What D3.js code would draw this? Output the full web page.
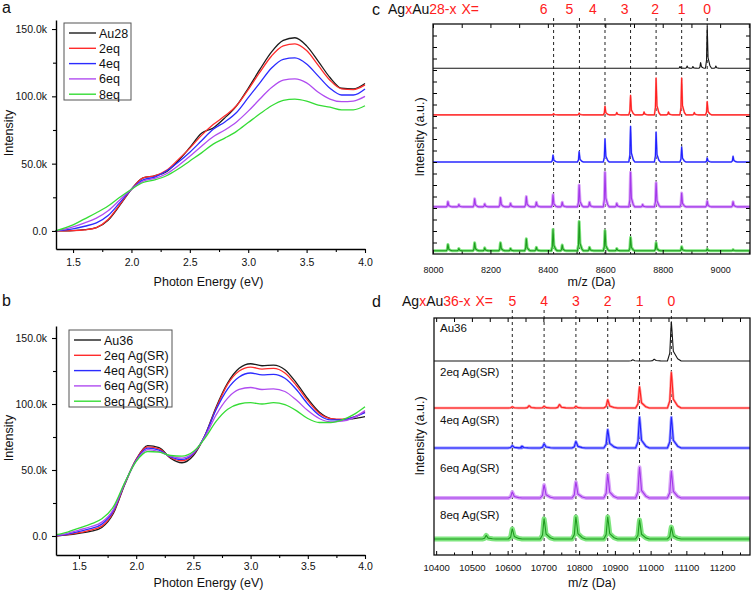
<!DOCTYPE html>
<html>
<head>
<meta charset="utf-8">
<script src="https://cdn.jsdelivr.net/npm/d3@7"></script>
<style>
body { margin: 0; background: #fff; }
text { font-family: "Liberation Sans", Arial, sans-serif; }
</style>
</head>
<body>
<svg id="fig" width="754" height="591"></svg>
<script>
// ---- panel a : UV-vis of Au28 with Ag doping (values in k) ----
const energyA = [1.35,1.5,1.6,1.7,1.8,1.9,2.0,2.1,2.2,2.3,2.4,2.5,2.6,2.7,2.8,2.9,3.0,3.1,3.2,3.3,3.4,3.5,3.6,3.7,3.8,3.9,4.0];
const au28  = [0,0.3,1,2.5,8,19,31,39.5,41,44,52,62,72.5,76.5,84,93,106,120,133,141.5,143.5,137.5,126,114,106,105.5,109.5];
const au28_2eq = [0,0.2,0.8,2.5,8.5,19.5,31,39.5,41,45,53,61.5,71,79,85.5,93,105,118,130,137.5,139,134,123,112,105.5,105,108.5];
const au28_4eq = [0,1.5,3.5,6,11.5,21,31,38,40,44.5,51,58.5,67,75.5,81,88,99,110,121,127.5,128.5,124,115,106,101,101,105.5];
const au28_6eq = [0,3,6,9.5,15,23,31,37,39,42.5,48.5,55.5,63,70,75,81,89,98,106.5,112,113,110,103,98,96,96.5,100];
const au28_8eq = [0,4.5,9,13.5,18.5,25,31,36,38,41,46,52,58,64.5,69,74,80.5,87,93,97,98,96.5,93.5,92,90,90,93];
const legendA = ["Au28", "2eq", "4eq", "6eq", "8eq"];

// ---- panel b : UV-vis of Au36 ----
const energyB = [1.3,1.4,1.5,1.6,1.7,1.8,1.9,2.0,2.1,2.2,2.3,2.4,2.5,2.6,2.7,2.8,2.9,3.0,3.1,3.2,3.3,3.4,3.5,3.6,3.7,3.8,3.9,4.0];
const au36  = [0,0.8,2,3.5,6.5,17,39,58,68.5,67,59,55.5,61,76,98,116,127,130.5,129,129.5,126,116,104,94,89,88,89,90.5];
const au36_2eq = [0,1,2.5,4.5,7.5,18,39.5,58,67.5,66,59.5,57,62,76,97,115,125,128,126.5,127,123.5,114,102.5,93,89,88.5,90,94];
const au36_4eq = [0.2,1.5,3.5,5.5,9,19,40,57.5,66.5,65,60,58,62.5,76,96,111.5,120.5,123.5,122,122.5,119.5,111,100,91.5,88,88,90,93.5];
const au36_6eq = [0.5,2,4.5,7,10.5,20,40,57,65.5,64,60.5,59,63,75,92,104.5,111,112.5,111,111.5,109.5,103,95,89,86.5,87,89.5,95];
const au36_8eq = [1,3,6,9,13,22,40.5,56.5,64,63.5,61,60.5,64,74,87,96,100,101,100,101,99.5,95,89,86,86,88,92,98];
const legendB = ["Au36", "2eq Ag(SR)", "4eq Ag(SR)", "6eq Ag(SR)", "8eq Ag(SR)"];

const uvTicksY = [0, 50, 100, 150];
const uvMinorY = [25, 75, 125];
const uvTicksX = [1.5, 2.0, 2.5, 3.0, 3.5, 4.0];
const uvMinorX = [1.75, 2.25, 2.75, 3.25, 3.75];

// ---- panel c : MALDI of AgxAu28-x, peaks [m/z, height above baseline] ----
const xLabelsC = ["6", "5", "4", "3", "2", "1", "0"];
const markC = [8420, 8510, 8599, 8688, 8777, 8866, 8955];
const baseC = [16.15, 12.1, 8.0, 4.1, 0.28];
const peaksC_au28 = [[8860,0.15],[8885,0.2],[8905,0.15],[8932,0.5],[8955,3.6],[8985,0.2]];
const peaksC_2eq = [[8420,0.1],[8509,0.15],[8599,0.75],[8640,0.2],[8688,1.7],[8735,0.25],[8777,3.2],[8820,0.25],[8866,3.2],[8910,0.2],[8955,1.15]];
const peaksC_4eq = [[8418,0.6],[8509,0.9],[8599,2.0],[8688,3.1],[8777,2.6],[8866,1.3],[8955,0.35],[9045,0.5]];
const peaksC_6eq = [[8052,0.45],[8090,0.2],[8145,0.7],[8180,0.25],[8235,0.8],[8270,0.3],[8325,0.9],[8360,0.4],[8418,1.05],[8450,0.4],[8509,1.9],[8545,0.4],[8599,3.0],[8640,0.3],[8688,3.0],[8730,0.2],[8777,2.1],[8866,1.2],[8955,0.5],[9045,0.45]];
const peaksC_8eq = [[8052,0.55],[8090,0.2],[8145,0.7],[8180,0.25],[8235,0.7],[8270,0.2],[8325,1.05],[8360,0.3],[8418,1.85],[8450,0.5],[8509,2.55],[8545,0.3],[8599,1.75],[8640,0.2],[8688,1.15],[8777,0.7],[8866,0.35],[8955,0.15],[9045,0.1]];

// ---- panel d : MALDI of AgxAu36-x ----
const xLabelsD = ["5", "4", "3", "2", "1", "0"];
const markD = [10613, 10702, 10791, 10880, 10969, 11058];
const baseD = [16.37, 12.4, 9.03, 4.81, 1.35];
const namesD = ["Au36", "2eq Ag(SR)", "4eq Ag(SR)", "6eq Ag(SR)", "8eq Ag(SR)"];
const peaksD_au36 = [[10950,0.1],[11010,0.15],[11058,3.3]];
const peaksD_2eq = [[10613,0.1],[10660,0.2],[10702,0.15],[10745,0.3],[10791,0.15],[10880,0.7],[10969,1.8],[11058,3.0]];
const peaksD_4eq = [[10613,0.2],[10640,0.15],[10702,0.35],[10791,0.55],[10880,1.55],[10969,2.6],[11058,2.6]];
const peaksD_6eq = [[10613,0.5],[10702,1.1],[10791,1.35],[10880,2.0],[10969,2.6],[11058,2.25]];
const peaksD_8eq = [[10540,0.3],[10613,0.85],[10702,1.7],[10791,1.85],[10880,1.85],[10969,1.6],[11058,1.0]];

const uvColors = ["#1c1c1c", "#ff2b2b", "#2b2bff", "#b04cf0", "#35dc35"];
const msColors = ["#151515", "#ff2020", "#2020ff", "#a337ea", "#1f9a1f"];
const msHalo = ["#151515", "#ff9a9a", "#9a9aff", "#d9a4f8", "#7ee57e"];

const svg = d3.select("#fig");

function uvPanel(o) {
    const g = svg.append("g");
    const x = d3.scaleLinear().domain(o.xd).range([o.left, o.right]);
    const y = d3.scaleLinear().domain(o.yd).range([o.bottom, o.top]);

    const line = d3.line().x(d => x(d[0])).y(d => y(d[1])).curve(d3.curveMonotoneX);
    o.series.forEach((s, i) => {
        g.append("path")
            .attr("d", line(o.energy.map((e, k) => [e, s[k]])))
            .attr("fill", "none")
            .attr("stroke", uvColors[i])
            .attr("stroke-width", 1.3);
    });

    g.append("g").attr("transform", `translate(0,${o.bottom})`)
        .call(d3.axisBottom(x).tickValues(uvTicksX).tickFormat(d3.format(".1f"))
            .tickSizeInner(4).tickSizeOuter(0).tickPadding(o.padX));
    g.append("g").attr("transform", `translate(0,${o.bottom})`)
        .call(d3.axisBottom(x).tickValues(uvMinorX).tickFormat("").tickSizeInner(3).tickSizeOuter(0))
        .select(".domain").remove();
    g.append("g").attr("transform", `translate(${o.left},0)`)
        .call(d3.axisLeft(y).tickValues(uvTicksY).tickFormat(d => d === 0 ? "0.0" : d.toFixed(1) + "k")
            .tickSizeInner(4).tickSizeOuter(0).tickPadding(5));
    g.append("g").attr("transform", `translate(${o.left},0)`)
        .call(d3.axisLeft(y).tickValues(uvMinorY).tickFormat("").tickSizeInner(3).tickSizeOuter(0))
        .select(".domain").remove();
    g.selectAll(".domain").attr("stroke-width", 1.4);
    g.selectAll(".tick line").attr("stroke-width", 1.1);
    g.selectAll(".tick text").attr("font-size", 10.5).attr("font-family", "Liberation Sans, Arial").attr("fill", "#111");

    // legend
    const lg = g.append("g");
    lg.append("rect").attr("x", o.lx).attr("y", o.ly).attr("width", o.lw).attr("height", 77)
        .attr("fill", "#fff").attr("stroke", "#555").attr("stroke-width", 1);
    o.names.forEach((n, i) => {
        const cy = o.ly + 10 + i * 15.3;
        lg.append("line").attr("x1", o.lx + 5).attr("x2", o.lx + 32).attr("y1", cy).attr("y2", cy)
            .attr("stroke", uvColors[i]).attr("stroke-width", 1.4);
        lg.append("text").attr("x", o.lx + 35).attr("y", cy + 4.5).attr("font-size", 12.5).attr("fill", "#111").text(n);
    });

    g.append("text").attr("x", (o.left + o.right) / 2 - 2).attr("y", o.xTitleY).attr("text-anchor", "middle")
        .attr("font-size", 12.5).attr("fill", "#111").text("Photon Energy (eV)");
    g.append("text").attr("transform", `translate(13,${o.yTitleY}) rotate(-90)`).attr("text-anchor", "middle")
        .attr("font-size", 12.5).attr("fill", "#111").text("Intensity");
    g.append("text").attr("x", 2).attr("y", o.letterY).attr("font-size", 16).attr("fill", "#111").text(o.letter);
}

uvPanel({
    xd: [1.354, 4.0], yd: [-13.4, 156.7], left: 56, right: 365, top: 20, bottom: 249,
    energy: energyA, series: [au28, au28_2eq, au28_4eq, au28_6eq, au28_8eq], names: legendA,
    lx: 64, ly: 23, lw: 67, padX: 6, xTitleY: 286, yTitleY: 133, letter: "a", letterY: 13
});
uvPanel({
    xd: [1.299, 4.0], yd: [-14.4, 159.1], left: 56, right: 365, top: 326, bottom: 555,
    energy: energyB, series: [au36, au36_2eq, au36_4eq, au36_6eq, au36_8eq], names: legendB,
    lx: 69, ly: 330, lw: 103, padX: 4, xTitleY: 587, yTitleY: 438, letter: "b", letterY: 306
});

// spike shape for a mass peak, built around the peak table
function spectrum(base, peaks, w, x0, x1) {
    const pts = [[x0, base]];
    peaks.forEach(([m, h]) => {
        pts.push([m - w, base], [m - 0.4 * w, base + 0.2 * h], [m - 0.1 * w, base + 0.85 * h], [m, base + h],
            [m + 0.15 * w, base + 0.8 * h], [m + 0.5 * w, base + 0.25 * h], [m + 1.6 * w, base + 0.06 * h], [m + 2.5 * w, base]);
    });
    pts.push([x1, base]);
    return pts;
}

function msPanel(o) {
    const g = svg.append("g");
    const x = d3.scaleLinear().domain(o.xd).range([o.left, o.right]);
    const y = d3.scaleLinear().domain([0, 20]).range([o.bottom, o.top]);
    const clipId = "clip" + o.letter;
    g.append("clipPath").attr("id", clipId).append("rect")
        .attr("x", o.left).attr("y", o.top).attr("width", o.right - o.left).attr("height", o.bottom - o.top);

    // dashed guide lines + X labels
    o.marks.forEach((m, i) => {
        g.append("line").attr("x1", x(m)).attr("x2", x(m)).attr("y1", o.dashTop).attr("y2", o.bottom)
            .attr("stroke", "#222").attr("stroke-width", 1).attr("stroke-dasharray", "3,3");
        g.append("text").attr("x", x(m) - o.labShift[i]).attr("y", o.titleY).attr("text-anchor", "middle")
            .attr("font-size", 14).attr("fill", "#ff2020").text(o.xLabels[i]);
    });

    const line = d3.line().x(d => x(d[0])).y(d => y(d[1]));
    const tg = g.append("g").attr("clip-path", `url(#${clipId})`);
    o.traces.forEach((p, i) => {
        const d = line(spectrum(o.base[i], p, o.w, o.xd[0], o.xd[1]));
        if (o.halo[i] > 0) {
            tg.append("path").attr("d", d).attr("fill", "none").attr("stroke", msHalo[i])
                .attr("stroke-width", o.halo[i]).attr("stroke-linejoin", "round");
        }
        tg.append("path").attr("d", d).attr("fill", "none").attr("stroke", msColors[i])
            .attr("stroke-width", 1.1).attr("stroke-linejoin", "round");
    });

    // frame and ticks (inward)
    g.append("g").attr("transform", `translate(0,${o.bottom})`)
        .call(d3.axisBottom(x).tickValues(o.major).tickFormat(d3.format("d"))
            .tickSizeInner(-4).tickSizeOuter(0).tickPadding(o.padX));
    g.append("g").attr("transform", `translate(0,${o.bottom})`)
        .call(d3.axisBottom(x).tickValues(o.minor).tickFormat("").tickSizeInner(-2.5).tickSizeOuter(0));
    g.append("g").attr("transform", `translate(0,${o.top})`)
        .call(d3.axisTop(x).tickValues(o.major.concat(o.minor)).tickFormat("").tickSizeInner(-4).tickSizeOuter(0));
    if (o.yTicks) {
        g.append("g").attr("transform", `translate(${o.left},0)`)
            .call(d3.axisLeft(y).tickValues(d3.range(1, 20)).tickFormat("").tickSizeInner(-4).tickSizeOuter(0));
        g.append("g").attr("transform", `translate(${o.right},0)`)
            .call(d3.axisRight(y).tickValues(d3.range(1, 20)).tickFormat("").tickSizeInner(-4).tickSizeOuter(0));
    }
    g.selectAll(".domain").remove();
    g.append("rect").attr("x", o.left).attr("y", o.top).attr("width", o.right - o.left).attr("height", o.bottom - o.top)
        .attr("fill", "none").attr("stroke", "#111").attr("stroke-width", 1.3);
    g.selectAll(".tick line").attr("stroke-width", 1);
    g.selectAll(".tick text").attr("font-size", o.tickFont).attr("font-family", "Liberation Sans, Arial").attr("fill", "#111");

    if (o.names) {
        o.names.forEach((n, i) => {
            g.append("text").attr("x", o.left + 6).attr("y", o.nameY[i]).attr("font-size", 11.5).attr("fill", "#111").text(n);
        });
    }

    // titles
    const t = g.append("text").attr("x", o.titleX).attr("y", o.titleY).attr("font-size", 14).attr("fill", "#111");
    t.append("tspan").text("Ag");
    t.append("tspan").attr("fill", "#ff2020").text("x");
    t.append("tspan").text("Au");
    t.append("tspan").attr("fill", "#ff2020").text(o.n + "-x");
    t.append("tspan").attr("fill", "#ff2020").attr("dx", 5).text("X=");
    g.append("text").attr("x", 372).attr("y", o.titleY + 1).attr("font-size", 16).attr("fill", "#111").text(o.letter);
    g.append("text").attr("x", (o.left + o.right) / 2).attr("y", o.xTitleY).attr("text-anchor", "middle")
        .attr("font-size", 12.5).attr("fill", "#111").text("m/z (Da)");
    g.append("text").attr("transform", `translate(424,${o.yTitleY}) rotate(-90)`).attr("text-anchor", "middle")
        .attr("font-size", 12.5).attr("fill", "#111").text("Intensity (a.u.)");
}

msPanel({
    letter: "c", n: "28", xd: [8000, 9104], left: 433, right: 750, top: 24, bottom: 254,
    marks: markC, xLabels: xLabelsC, labShift: [10, 10, 12, 6, 1, 0, 0], dashTop: 18, titleY: 14, titleX: 388,
    traces: [peaksC_au28, peaksC_2eq, peaksC_4eq, peaksC_6eq, peaksC_8eq], base: baseC, w: 6,
    halo: [0, 1.8, 1.8, 3, 3], major: d3.range(8000, 9001, 200), minor: d3.range(8100, 9101, 200),
    padX: 12.5, tickFont: 9, yTicks: true, xTitleY: 286, yTitleY: 137
});
msPanel({
    letter: "d", n: "36", xd: [10394, 11278], left: 434, right: 750, top: 318, bottom: 555,
    marks: markD, xLabels: xLabelsD, labShift: [0, 0, 0, 0, 0, 0], dashTop: 310, titleY: 306, titleX: 402,
    traces: [peaksD_au36, peaksD_2eq, peaksD_4eq, peaksD_6eq, peaksD_8eq], base: baseD, w: 11,
    halo: [0, 2.5, 2.8, 3.8, 5], major: d3.range(10400, 11201, 100), minor: d3.range(10450, 11251, 100),
    padX: 9.5, tickFont: 9.5, yTicks: false, names: namesD, nameY: [332, 376, 424, 472, 519],
    xTitleY: 587, yTitleY: 436
});
</script>
</body>
</html>
